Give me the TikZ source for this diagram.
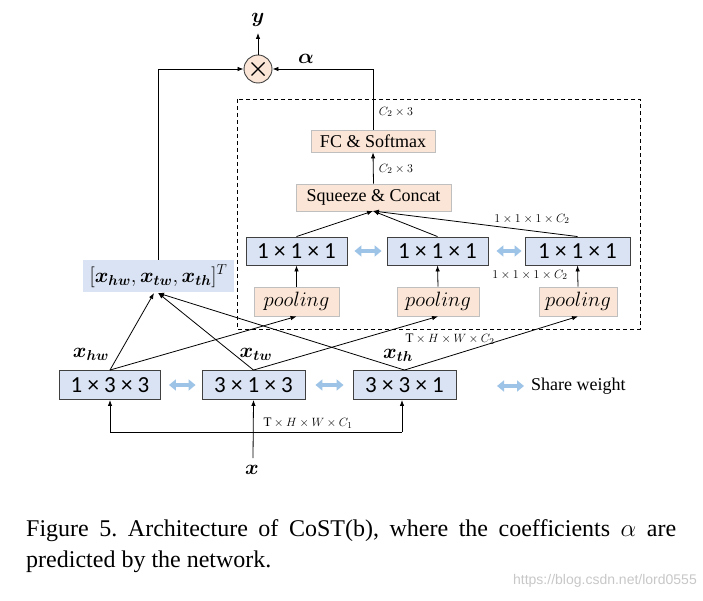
\documentclass[tikz,border=0pt]{standalone}
\usepackage{fontspec}
\usepackage{amsmath}
\usepackage{bm}
\setmainfont{Liberation Serif}
\newfontfamily\boxfont{Carlito}
\newfontfamily\wmfont{Liberation Sans}
\usetikzlibrary{arrows.meta,calc}
\frenchspacing
\definecolor{boxblue}{RGB}{218,227,243}
\definecolor{boxpeach}{RGB}{251,229,214}
\definecolor{sharecol}{RGB}{157,195,230}
\definecolor{edgegray}{RGB}{64,64,64}
\definecolor{peachedge}{RGB}{191,191,191}
\tikzset{
  convbox/.style={draw=edgegray, line width=0.9pt, fill=boxblue, minimum width=101pt, minimum height=29pt, inner sep=0pt, font=\boxfont\fontsize{23}{23}\selectfont},
  poolbox/.style={draw=peachedge, line width=0.8pt, fill=boxpeach, minimum width=82pt, minimum height=29pt, inner sep=0pt, font=\fontsize{21}{21}\selectfont},
  opbox/.style={draw=peachedge, line width=0.8pt, fill=boxpeach, inner sep=0pt, font=\fontsize{18}{18}\selectfont},
  conn/.style={line width=0.8pt, -{Latex[length=6pt,width=4.5pt]}},
  plain/.style={line width=0.8pt},
  share/.style={draw=sharecol, line width=4pt, {Triangle[width=11pt,length=7pt]}-{Triangle[width=11pt,length=7pt]}},
  dimlab/.style={font=\fontsize{13}{13}\selectfont, inner sep=0pt},
  veclab/.style={font=\fontsize{21}{21}\selectfont, inner sep=0pt},
}
\begin{document}
\begin{tikzpicture}[x=1pt,y=-1pt]
\useasboundingbox (0,0) rectangle (703,601);
% dashed region
\draw[dashed, line width=0.8pt, dash pattern=on 4pt off 3pt] (237,99) rectangle (640,329);
% circle
\node[circle, draw=edgegray, line width=0.9pt, fill=boxpeach, minimum size=28pt, inner sep=0pt] (mult) at (258,69) {};
\draw[line width=1.2pt] ($(mult.center)+(-6.5,-6.5)$) -- ++(13,13);
\draw[line width=1.2pt] ($(mult.center)+(6.5,-6.5)$) -- ++(-13,13);
\node[veclab] (y) at (258,20) {$\bm{y}$};
\draw[conn] (mult.north) -- (258,33) coordinate (ytip);
\node[veclab] (alpha) at (306,59) {$\bm{\alpha}$};
% ops
\node[opbox, minimum width=124pt, minimum height=22pt] (fc) at (373,141) {FC \& Softmax};
\node[opbox, minimum width=155pt, minimum height=27pt] (sq) at (373.5,197.5) {Squeeze \& Concat};
\node[dimlab] (l1) at (396,112) {$C_2\times 3$};
\node[dimlab] (l2) at (396,169) {$C_2\times 3$};
% 1x1x1 boxes
\node[convbox, minimum width=101pt, minimum height=28pt] (a1) at (296.5,251) {1 × 1 × 1};
\node[convbox, minimum width=101pt, minimum height=28pt] (a2) at (437.5,251) {1 × 1 × 1};
\node[convbox, minimum width=105pt, minimum height=28pt] (a3) at (577.5,251) {1 × 1 × 1};
% pooling boxes
\node[poolbox, minimum width=85pt] (p1) at (296.5,301.5) {$pooling$};
\node[poolbox] (p2) at (438,301.5) {$pooling$};
\node[poolbox, minimum width=78pt] (p3) at (578,301.5) {$pooling$};
\node[dimlab] (l3) at (532,219) {$1\times 1\times 1\times C_2$};
\node[dimlab] (l4) at (530,275) {$1\times 1\times 1\times C_2$};
\node[dimlab] (l5) at (450,339) {$\mathrm{T}\times H\times W\times C_2$};
% vector node
\node[fill=boxblue, minimum width=151pt, minimum height=32pt, inner sep=0pt, font=\fontsize{20}{20}\selectfont] (vec) at (158.5,276) {$[\bm{x}_{\bm{hw}},\bm{x}_{\bm{tw}},\bm{x}_{\bm{th}}]^T$};
% lower conv boxes
\node[convbox] (b1) at (110,385) {1 × 3 × 3};
\node[convbox, minimum width=103pt] (b2) at (253.5,385) {3 × 1 × 3};
\node[convbox, minimum width=103pt] (b3) at (404.5,385) {3 × 3 × 1};
\node[veclab] (xhw) at (91,354) {$\bm{x}_{\bm{hw}}$};
\node[veclab] (xtw) at (256,354) {$\bm{x}_{\bm{tw}}$};
\node[veclab] (xth) at (398,355) {$\bm{x}_{\bm{th}}$};
% input
\node[veclab] (x) at (252,470) {$\bm{x}$};
\node[dimlab] (l6) at (308,423) {$\mathrm{T}\times H\times W\times C_1$};
% legend
\coordinate (lgL) at (497,386);
\coordinate (lgR) at (524,386);
\node[font=\fontsize{18}{18}\selectfont, anchor=west, inner sep=0pt] (lgt) at (531,386) {Share weight};
% share arrows
\draw[share] ($(b1.east)+(8,0)$) -- ($(b2.west)+(-6,0)$);
\draw[share] ($(b2.east)+(10,0)$) -- ($(b3.west)+(-9,0)$);
\draw[share] ($(a1.east)+(7,0)$) -- ($(a2.west)+(-5,0)$);
\draw[share] ($(a2.east)+(8,0)$) -- ($(a3.west)+(-3,0)$);
\draw[share] (lgL) -- (lgR);
% top connections
\draw[conn] (vec.north) |- (mult.west);
\draw[conn] (fc.north) |- (mult.east);
\draw[conn] (sq.north) -- (fc.south);
\coordinate (sqin) at (373,211);
\draw[conn] (a1.north) -- (sqin);
\draw[conn] (a2.north) -- (sqin);
\draw[conn] (a3.north) -- (sqin);
\draw[conn] (p1.north) -- (a1.south);
\draw[conn] (p2.north) -- (a2.south);
\draw[conn] (p3.north) -- (a3.south);
% lower to vector and pooling
\coordinate (vin1) at (154,293);
\coordinate (vin2) at (158,293);
\draw[conn] (b1.north) -- (vin1);
\draw[conn] (b2.north) -- (vin2);
\draw[conn] (b3.north) -- (vin2);
\draw[conn] (b1.north) -- (p1.south);
\draw[conn] (b2.north) -- (p2.south);
\draw[conn] (b3.north) -- (p3.south);
% input
\coordinate (xtop) at (253,458);
\draw[conn] (xtop) -- (b2.south);
\coordinate (hl) at (110,432);
\coordinate (hr) at (402,432);
\draw[plain] (hl) -- (hr);
\draw[conn] (hl) -- (hl |- b1.south);
\draw[conn] (hr) -- (hr |- b3.south);
% caption
\node[anchor=base west, inner sep=0pt, font=\fontsize{24}{24}\selectfont] (cap1) at (26,536) {\makebox[650pt][s]{Figure 5. Architecture of CoST(b), where the coefficients $\alpha$ are}};
\node[anchor=base west, inner sep=0pt, font=\fontsize{24}{24}\selectfont] (cap2) at (26,567) {predicted by the network.};
\node[anchor=east, inner sep=0pt, text=black!22, font=\wmfont\fontsize{14}{14}\selectfont] (wm) at (697,581) {https://blog.csdn.net/lord0555};
\end{tikzpicture}
\end{document}
